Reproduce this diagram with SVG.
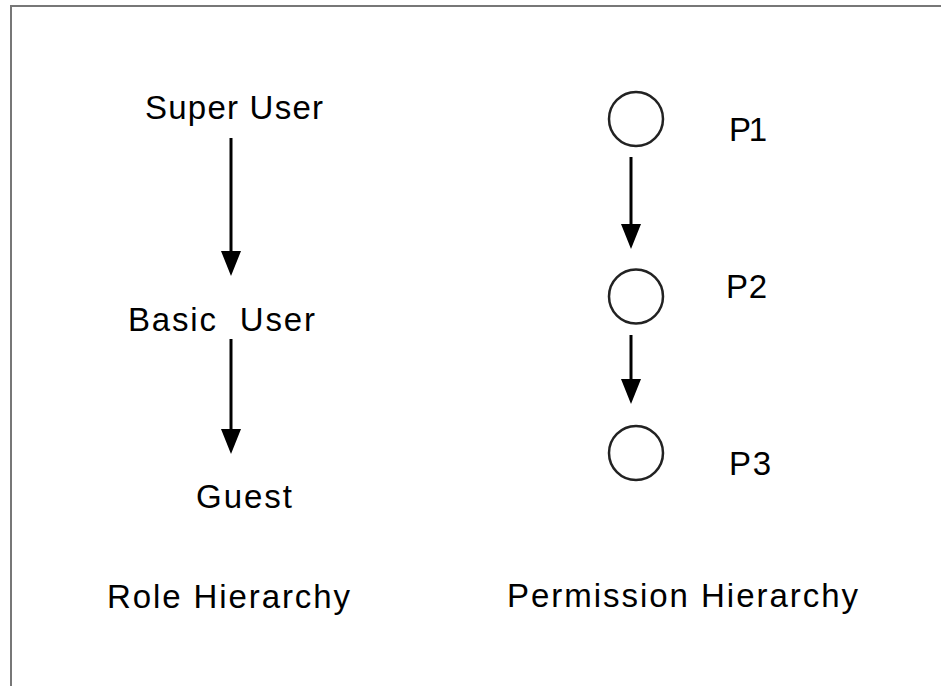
<svg xmlns="http://www.w3.org/2000/svg" width="941" height="686" viewBox="0 0 941 686">
  <defs>
    <style>
      .lbl { font-family: "Liberation Sans", Arial, sans-serif; font-size: 33px; fill: #000; white-space: pre; }
      .frame { fill: none; stroke: #777; stroke-width: 2; }
      .edge { stroke: #000; stroke-width: 3; fill: none; }
      .perm { fill: #fff; stroke: #222; stroke-width: 2.5; }
    </style>
    <marker id="head" viewBox="0 0 25 20" refX="12" refY="10" markerWidth="25" markerHeight="20" markerUnits="userSpaceOnUse" orient="auto">
      <path d="M0,0 L25,10 L0,20 Z" fill="#000"/>
    </marker>
  </defs>

  <rect width="941" height="686" fill="#fff"/>
  <!-- outer frame: top and left edges only -->
  <path class="frame" d="M941,6 H11 V686"/>

  <!-- connectors -->
  <g id="connectors">
    <path class="edge" d="M231,138 V263" marker-end="url(#head)"/>
    <path class="edge" d="M231,339 V441" marker-end="url(#head)"/>
    <path class="edge" d="M631,157 V236" marker-end="url(#head)"/>
    <path class="edge" d="M631,335 V391" marker-end="url(#head)"/>
  </g>

  <!-- role hierarchy -->
  <g id="role-super-user">
    <text class="lbl" x="145" y="119" textLength="178" lengthAdjust="spacing">Super User</text>
  </g>
  <g id="role-basic-user">
    <text class="lbl" x="128" y="331" textLength="187" lengthAdjust="spacing">Basic  User</text>
  </g>
  <g id="role-guest">
    <text class="lbl" x="196" y="508" textLength="96" lengthAdjust="spacing">Guest</text>
  </g>
  <g id="role-title">
    <text class="lbl" x="107" y="608" textLength="243" lengthAdjust="spacing">Role Hierarchy</text>
  </g>

  <!-- permission hierarchy -->
  <g id="perm-p1">
    <circle class="perm" cx="636" cy="119" r="27"/>
    <text class="lbl" x="729" y="141" textLength="38" lengthAdjust="spacing">P1</text>
  </g>
  <g id="perm-p2">
    <circle class="perm" cx="636" cy="296.5" r="27"/>
    <text class="lbl" x="726" y="298" textLength="41" lengthAdjust="spacing">P2</text>
  </g>
  <g id="perm-p3">
    <circle class="perm" cx="636" cy="453" r="27"/>
    <text class="lbl" x="729" y="475" textLength="42" lengthAdjust="spacing">P3</text>
  </g>
  <g id="perm-title">
    <text class="lbl" x="507" y="607" textLength="351" lengthAdjust="spacing">Permission Hierarchy</text>
  </g>
</svg>
